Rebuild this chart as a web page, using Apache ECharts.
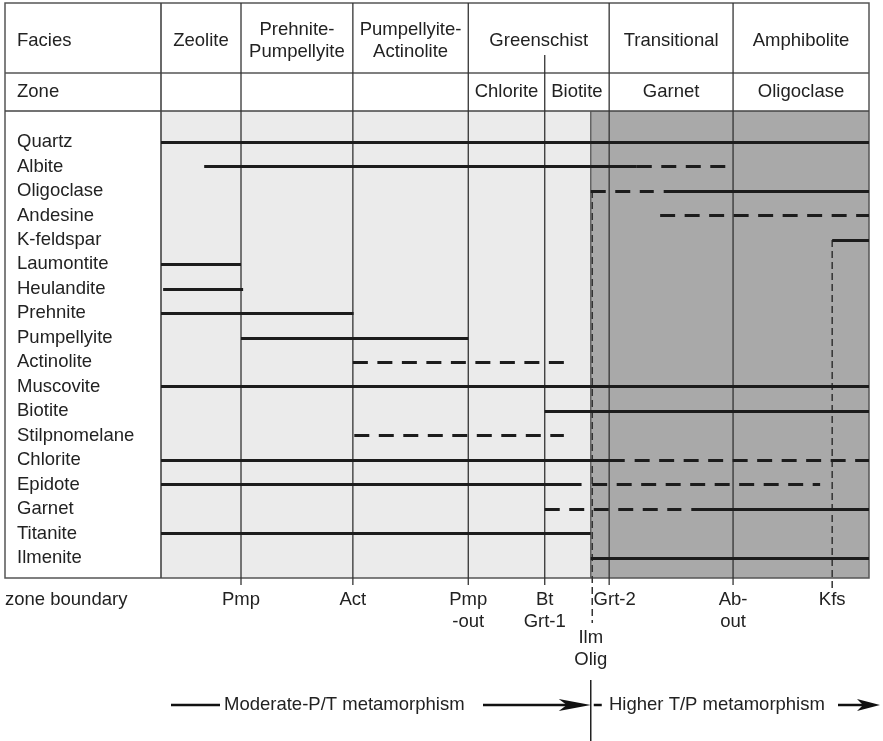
<!DOCTYPE html>
<html><head><meta charset="utf-8">
<script src="https://cdn.jsdelivr.net/npm/echarts@6/dist/echarts.min.js"></script>
<style>html,body{margin:0;padding:0;background:#fff}#c{width:883px;height:741px}</style>
</head><body><div id="c"></div>
<script>
// ---- data (grade scale 0..100 across the diagram) ----
const minerals = ['Quartz','Albite','Oligoclase','Andesine','K-feldspar','Laumontite','Heulandite','Prehnite','Pumpellyite','Actinolite','Muscovite','Biotite','Stilpnomelane','Chlorite','Epidote','Garnet','Titanite','Ilmenite'];

const boundaryNames = ['Pmp','Act','Pmp\n-out','Bt\nGrt-1','Ilm\nOlig','Grt-2','Ab-\nout','Kfs'];
const boundaryValues = [11.3, 27.1, 43.4, 54.2, 60.7, 63.3, 80.8, 94.8];

const faciesNames = ['Zeolite','Prehnite-\nPumpellyite','Pumpellyite-\nActinolite','Greenschist','Transitional','Amphibolite'];
const faciesEdges = [0, 11.3, 27.1, 43.4, 63.3, 80.8, 100];
const zoneNames = ['Chlorite','Biotite','Garnet','Oligoclase'];
const zoneEdges = [43.4, 54.2, 63.3, 80.8, 100];

// stability ranges [mineral, from, to]
const solidRanges = [
  ['Quartz', 0, 100],
  ['Albite', 6.1, 67.2],
  ['Oligoclase', 71.0, 100],
  ['K-feldspar', 94.8, 100],
  ['Laumontite', 0, 11.3],
  ['Heulandite', 0.3, 11.6],
  ['Prehnite', 0, 27.2],
  ['Pumpellyite', 11.3, 43.4],
  ['Muscovite', 0, 100],
  ['Biotite', 54.2, 100],
  ['Chlorite', 0, 65.5],
  ['Epidote', 0, 59.4],
  ['Garnet', 74.9, 100],
  ['Titanite', 0, 60.7],
  ['Ilmenite', 60.7, 100]
];
const dashedRanges = [
  ['Albite', 67.2, 79.8],
  ['Oligoclase', 60.7, 69.6],
  ['Andesine', 70.5, 100],
  ['Actinolite', 27.1, 56.9],
  ['Stilpnomelane', 27.3, 56.9],
  ['Chlorite', 66.9, 100],
  ['Epidote', 60.9, 93.1],
  ['Garnet', 54.2, 73.5]
];
// moderate-P/T (light) and higher-T/P (dark) fields
const fieldRanges = [[0, 60.7], [60.7, 100]];
const fieldColors = ['#ebebeb', '#a9a9a9'];

// ---- chart ----
const FONT = 'Liberation Sans, Arial, Helvetica, sans-serif';
const FS = 18.5;
const TXT = '#222';
const toSeg = r => ({ coords: [[r[1], minerals.indexOf(r[0])], [r[2], minerals.indexOf(r[0])]] });

const chart = echarts.init(document.getElementById('c'), null, { renderer: 'canvas' });
chart.setOption({
  animation: false,
  backgroundColor: '#fff',
  grid: { left: 161, right: 14, top: 111, bottom: 163, containLabel: false, outerBoundsMode: 'none' },
  xAxis: {
    type: 'value', min: 0, max: 100,
    axisLine: { show: false }, axisTick: { show: false }, splitLine: { show: false },
    axisLabel: {
      customValues: boundaryValues,
      margin: 11, fontSize: FS, fontFamily: FONT, color: TXT, lineHeight: 22,
      formatter: function (v) {
        const i = boundaryValues.findIndex(b => Math.abs(b - v) < 1e-6);
        const name = boundaryNames[i];
        if (name === 'Ilm\nOlig') return '{sp| }\n{t|Ilm}\n{t|Olig}';
        if (name === 'Grt-2') return '{g|Grt-2}';
        return name;
      },
      rich: {
        sp: { lineHeight: 38, fontSize: FS, fontFamily: FONT },
        t: { lineHeight: 22, fontSize: FS, fontFamily: FONT, color: TXT },
        g: { lineHeight: 22, fontSize: FS, fontFamily: FONT, color: TXT, padding: [0, 0, 0, 11] }
      }
    }
  },
  yAxis: {
    type: 'value', inverse: true, min: -1.27, max: 17.82,
    axisLine: { show: false }, axisTick: { show: false }, splitLine: { show: false },
    axisLabel: {
      customValues: minerals.map((m, i) => i),
      formatter: v => minerals[Math.round(v)],
      align: 'left', margin: 144, fontSize: FS, fontFamily: FONT, color: TXT
    }
  },
  series: [
    {
      type: 'line', data: [], z: 1, silent: true,
      markArea: {
        silent: true,
        data: fieldRanges.map((r, i) => [
          { xAxis: r[0], itemStyle: { color: fieldColors[i] } },
          { xAxis: r[1] }
        ])
      }
    },
    {
      type: 'lines', coordinateSystem: 'cartesian2d', z: 10, silent: true,
      lineStyle: { color: '#1c1c1c', width: 3, type: 'solid', opacity: 1 },
      data: solidRanges.map(toSeg)
    },
    {
      type: 'lines', coordinateSystem: 'cartesian2d', z: 10, silent: true,
      lineStyle: { color: '#1c1c1c', width: 3, type: [15, 9.5], opacity: 1 },
      data: dashedRanges.map(toSeg)
    }
  ]
});

// ---- table frame, header and bottom annotation, placed through the axes ----
const px = v => chart.convertToPixel({ xAxisIndex: 0 }, v);
const py = v => chart.convertToPixel({ yAxisIndex: 0 }, v);
const T = 3, R1 = 73, L = 5;
const yTop = py(-1.27), yBot = py(17.82), xLeft = px(0), xRight = px(100);
const G = [];
const line = (x1, y1, x2, y2, w, c, dash) => G.push({
  type: 'line', z: 5, silent: true, shape: { x1, y1, x2, y2 },
  style: { stroke: c || '#444', lineWidth: w || 1.3, lineDash: dash || null }
});
const text = (s, x, y, align) => G.push({
  type: 'text', z: 6, silent: true, x, y,
  style: { text: s, fontSize: FS, fontFamily: FONT, fill: TXT, align: align || 'center', verticalAlign: 'middle', lineHeight: 22 }
});

G.push({ type: 'rect', z: 5, silent: true, shape: { x: L, y: T, width: xRight - L, height: yBot - T },
  style: { fill: 'none', stroke: '#555', lineWidth: 1.5 } });
line(L, R1, xRight, R1, 1.5, '#555');
line(L, yTop, xRight, yTop, 1.6, '#444');
line(xLeft, T, xLeft, yBot, 1.6, '#444');

// boundary verticals
boundaryValues.forEach((v, i) => {
  const n = boundaryNames[i];
  const x = px(v);
  if (n === 'Ilm\nOlig') {
    line(x, yTop, x, yBot, 1.3, '#555');
    line(x + 1.5, py(minerals.indexOf('Oligoclase')), x + 1.5, 623, 1.5, '#333', [7, 4]);
  } else if (n === 'Kfs') {
    line(x, py(minerals.indexOf('K-feldspar')), x, yBot + 10, 1.5, '#333', [7, 4]);
  } else {
    const yStart = faciesEdges.indexOf(v) >= 0 ? T : 55;
    line(x, yStart, x, yBot + 7, 1.3, '#333');
  }
});

text('Facies', 17, 41, 'left');
text('Zone', 17, 92, 'left');
faciesNames.forEach((n, i) => text(n, (px(faciesEdges[i]) + px(faciesEdges[i + 1])) / 2, 41));
zoneNames.forEach((n, i) => text(n, (px(zoneEdges[i]) + px(zoneEdges[i + 1])) / 2, 92));
text('zone boundary', 5, 600, 'left');

// metamorphism arrows
const ay = 705;
const tip = px(fieldRanges[1][0]);
line(171, ay, 220, ay, 2.5, '#111');
text('Moderate-P/T metamorphism', 224, ay, 'left');
line(483, ay, tip - 20, ay, 2.5, '#111');
G.push({ type: 'polygon', z: 6, silent: true, shape: { points: [[tip, ay], [tip - 32, ay - 6], [tip - 24, ay], [tip - 32, ay + 6]] }, style: { fill: '#111' } });
line(tip, 680, tip, 741, 1.5, '#222');
line(tip + 3, ay, tip + 11, ay, 2.5, '#111');
text('Higher T/P metamorphism', 609, ay, 'left');
line(838, ay, 866, ay, 2.5, '#111');
G.push({ type: 'polygon', z: 6, silent: true, shape: { points: [[880, ay], [857, ay - 6], [863, ay], [857, ay + 6]] }, style: { fill: '#111' } });

chart.setOption({ graphic: { elements: G } });
</script>
</body></html>
